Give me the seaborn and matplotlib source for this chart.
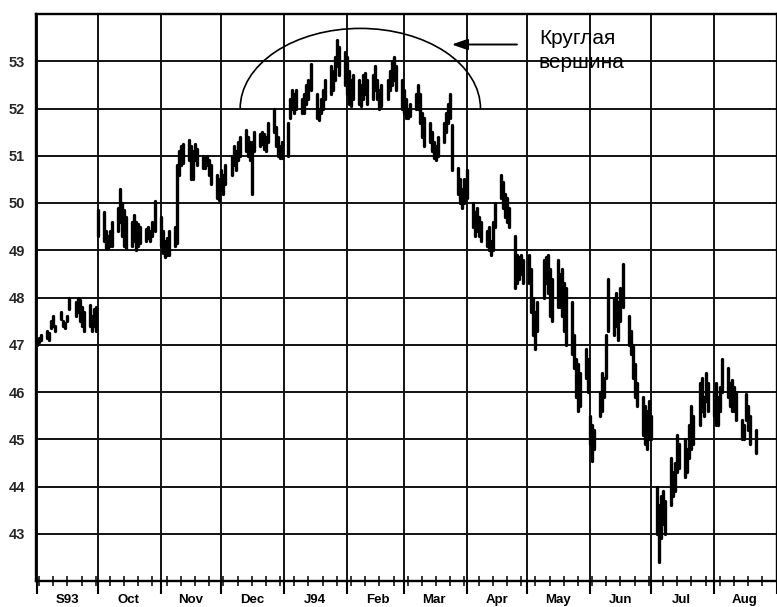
import matplotlib
matplotlib.use("Agg")
import matplotlib.pyplot as plt
import matplotlib.dates as mdates
from matplotlib.patches import Arc
import matplotlib.transforms as mtransforms
import pandas as pd
import seaborn as sns

# ---------------- data (daily high / low) ----------------
month_starts = ["1993-09-01", "1993-10-01", "1993-11-01", "1993-12-01", "1994-01-01",
                "1994-02-01", "1994-03-01", "1994-04-01", "1994-05-01", "1994-06-01",
                "1994-07-01", "1994-08-01", "1994-09-01"]
month_labels = ["S93", "Oct", "Nov", "Dec", "J94", "Feb", "Mar", "Apr", "May", "Jun", "Jul", "Aug"]
y_ticks = [43, 44, 45, 46, 47, 48, 49, 50, 51, 52, 53]

sep_hi = [47.1, 47.15, 47.2, 47.3, 47.25, 47.5, 47.6, 47.4, 47.7, 47.5, 47.45, 47.6, 48.0, 47.9, 48.0, 47.95, 47.8, 47.7, 47.85, 47.6, 47.75, 47.8]
sep_lo = [47.0, 47.05, 47.1, 47.15, 47.1, 47.35, 47.4, 47.3, 47.55, 47.4, 47.35, 47.5, 47.75, 47.6, 47.7, 47.5, 47.4, 47.3, 47.4, 47.3, 47.4, 47.3]
oct_hi = [49.85, 49.8, 49.4, 49.3, 49.4, 49.6, 49.9, 50.3, 50.0, 49.85, 49.7, 49.6, 49.75, 49.6, 49.55, 49.5, 49.45, 49.5, 49.4, 49.6, 50.05]
oct_lo = [49.3, 49.2, 49.05, 49.05, 49.1, 49.1, 49.4, 49.6, 49.3, 49.1, 49.05, 49.1, 49.2, 49.0, 49.1, 49.15, 49.2, 49.25, 49.2, 49.3, 49.4]
nov_hi = [49.7, 49.4, 49.2, 49.25, 49.4, 49.5, 50.8, 51.1, 51.2, 51.25, 51.33, 51.2, 51.1, 51.25, 51.15, 51.0, 50.95, 51.0, 50.9, 50.8, 50.6, 50.5]
nov_lo = [49.1, 48.95, 48.85, 48.9, 48.9, 49.1, 49.15, 50.6, 50.8, 50.85, 50.9, 50.5, 50.5, 50.9, 50.8, 50.75, 50.75, 50.8, 50.6, 50.4, 50.1, 50.06]
dec_hi = [50.7, 50.6, 50.8, 51.0, 51.2, 51.1, 51.3, 51.4, 51.55, 51.4, 51.3, 51.3, 51.5, 51.45, 51.5, 51.45, 51.4, 51.7, 52.0, 51.6, 51.4, 51.2, 51.3]
dec_lo = [50.3, 50.2, 50.4, 50.6, 50.8, 50.7, 50.9, 51.0, 51.1, 51.0, 50.9, 50.2, 51.1, 51.2, 51.25, 51.15, 51.1, 51.3, 51.5, 51.2, 51.0, 50.95, 50.95]
jan_hi = [51.7, 52.2, 52.4, 52.3, 52.4, 52.2, 52.3, 52.5, 52.6, 52.95, 52.3, 52.0, 52.2, 52.4, 52.6, 52.9, 52.8, 53.1, 53.45, 53.3, 53.2]
jan_lo = [51.0, 51.8, 52.0, 51.9, 52.0, 51.9, 51.9, 52.1, 52.2, 52.4, 51.8, 51.75, 51.9, 52.0, 52.2, 52.3, 52.4, 52.6, 52.9, 52.7, 52.5]
feb_hi = [53.1, 52.8, 52.6, 52.7, 52.6, 52.5, 52.7, 52.75, 52.6, 52.7, 52.9, 52.6, 52.4, 52.5, 52.6, 52.8, 53.0, 53.1, 52.9, 52.6]
feb_lo = [52.3, 52.1, 52.05, 52.2, 52.1, 52.05, 52.2, 52.3, 52.1, 52.2, 52.4, 52.2, 52.0, 52.05, 52.2, 52.4, 52.5, 52.6, 52.4, 52.0]
mar_hi = [52.4, 52.2, 52.0, 52.1, 52.3, 52.5, 52.3, 51.9, 51.8, 51.7, 51.5, 51.3, 51.2, 51.4, 51.7, 51.9, 52.1, 52.3, 51.65, 50.75, 50.5, 50.3, 50.5]
mar_lo = [51.9, 51.8, 51.8, 51.85, 52.0, 52.0, 51.7, 51.4, 51.2, 51.3, 51.1, 50.95, 50.9, 51.0, 51.3, 51.5, 51.7, 51.8, 50.7, 50.2, 50.0, 49.9, 50.0]
apr_hi = [50.7, 50.0, 49.8, 49.9, 49.7, 49.6, 49.4, 49.5, 49.2, 49.6, 50.0, 50.6, 50.45, 50.2, 50.1, 49.9, 49.3, 48.9, 48.85, 48.9, 48.8]
apr_lo = [50.1, 49.5, 49.3, 49.4, 49.3, 49.2, 49.1, 49.0, 48.9, 49.0, 49.5, 50.1, 49.9, 49.7, 49.6, 49.5, 48.2, 48.3, 48.4, 48.5, 48.3]
may_hi = [48.9, 48.6, 48.0, 47.7, 47.9, 48.8, 48.85, 48.9, 48.6, 48.4, 48.8, 48.5, 48.6, 48.3, 48.2, 47.9, 47.2, 46.7, 46.6, 46.4, 46.9, 46.7]
may_lo = [48.3, 47.7, 47.2, 46.9, 47.3, 48.0, 48.3, 48.1, 47.6, 47.5, 47.8, 47.8, 47.6, 47.3, 47.0, 46.8, 46.5, 45.9, 45.6, 45.7, 46.3, 46.0]
jun_hi = [45.5, 45.3, 45.2, 46.0, 46.4, 46.3, 47.2, 48.4, 48.0, 48.1, 47.9, 48.2, 48.7, 47.6, 47.3, 47.0, 46.6, 46.2, 45.9, 45.7, 45.6, 45.8]
jun_lo = [44.9, 44.55, 44.8, 45.5, 45.6, 45.9, 46.3, 47.3, 47.2, 47.4, 47.1, 47.5, 47.8, 47.0, 46.8, 46.3, 45.9, 45.7, 45.1, 44.9, 44.8, 45.0]
jul_hi = [45.5, 44.0, 43.6, 43.8, 43.9, 43.7, 44.6, 44.3, 44.5, 45.1, 44.9, 45.0, 44.8, 45.3, 45.7, 45.5, 46.2, 46.3, 45.9, 46.4, 46.2]
jul_lo = [45.0, 43.0, 42.4, 42.9, 43.2, 43.0, 43.6, 43.8, 43.9, 44.3, 44.4, 44.2, 44.3, 44.6, 44.8, 44.9, 45.3, 45.6, 45.5, 45.8, 45.6]
aug_hi = [46.0, 46.2, 45.9, 46.1, 46.7, 46.5, 46.2, 46.25, 46.1, 46.0, 45.4, 45.3, 45.95, 45.7, 45.5, 45.2]
aug_lo = [45.5, 45.3, 45.3, 45.6, 46.0, 45.9, 45.7, 45.6, 45.6, 45.4, 45.0, 45.0, 45.4, 45.2, 44.9, 44.7]

highs = [sep_hi, oct_hi, nov_hi, dec_hi, jan_hi, feb_hi, mar_hi, apr_hi, may_hi, jun_hi, jul_hi, aug_hi]
lows = [sep_lo, oct_lo, nov_lo, dec_lo, jan_lo, feb_lo, mar_lo, apr_lo, may_lo, jun_lo, jul_lo, aug_lo]

# --------------- build long table: one bar = two rows (high & low) ---------------
rows = []
bar_id = 0
for m, (hi, lo) in enumerate(zip(highs, lows)):
    start = pd.Timestamp(month_starts[m])
    days = pd.bdate_range(start, start + pd.offsets.MonthEnd(0))[:len(hi)]
    for d, h, l in zip(days, hi, lo):
        rows.append({"date": d, "price": h, "bar": bar_id})
        rows.append({"date": d, "price": l, "bar": bar_id})
        bar_id += 1
df = pd.DataFrame(rows)

# ---------------------------------- figure ----------------------------------
sns.set_theme(style="white")
plt.rcParams["font.family"] = ["Liberation Sans", "DejaVu Sans"]

W, H = 777, 607
fig = plt.figure(figsize=(W / 100, H / 100), dpi=100)
ax = fig.add_axes([36 / W, 26 / H, 740.5 / W, 567 / H])

sns.lineplot(data=df, x="date", y="price", units="bar", estimator=None,
             color="black", linewidth=2.4, ax=ax, legend=False)

x0 = pd.Timestamp("1993-08-31 12:00")
x1 = pd.Timestamp("1994-09-01")
ax.set_xlim(x0, x1)
ax.set_ylim(42, 54)

# grid
ms = [pd.Timestamp(s) for s in month_starts]
for d in ms[:-1]:
    ax.axvline(d, color="#111111", lw=1.4, zorder=1)
for v in y_ticks:
    ax.axhline(v, color="#111111", lw=1.4, zorder=1)

# y axis
ax.set_yticks(y_ticks)
ax.set_yticklabels([str(v) for v in y_ticks], fontweight="bold", fontsize=10.5)
ax.tick_params(axis="y", length=0, pad=8)

# x axis ticks
ax.xaxis.set_major_locator(mdates.MonthLocator())
ax.xaxis.set_minor_locator(mdates.WeekdayLocator(byweekday=mdates.TH))
ax.xaxis.set_major_formatter(plt.NullFormatter())
ax.tick_params(axis="x", which="major", direction="out", length=9, width=1.5, color="black", bottom=True)
ax.tick_params(axis="x", which="minor", direction="inout", length=7, width=1.1, color="black", bottom=True)
ax.set_xlabel("")
ax.set_ylabel("")

trans = mtransforms.blended_transform_factory(ax.transData, ax.transAxes)
for s, lab in zip(ms[:-1], month_labels):
    ax.text(s + pd.Timedelta(days=15), -0.034, lab, transform=trans, ha="center", va="center",
            fontsize=9.5, fontweight="bold", color="black")

for sp in ax.spines.values():
    sp.set_color("black")
    sp.set_linewidth(1.7)

# rounding-top arc
center = pd.Timestamp("1994-02-07 14:00")
arc = Arc((mdates.date2num(center), 52.0), width=118.6, height=3.39, theta1=0, theta2=180,
          color="black", lw=1.2, zorder=3)
ax.add_patch(arc)

# annotation
ax.annotate("", xy=(0.5615, 0.9462), xytext=(0.6495, 0.9462), xycoords="axes fraction",
            arrowprops=dict(arrowstyle="-|>,head_length=0.8,head_width=0.28", lw=1.4,
                            color="black", shrinkA=0, shrinkB=0))
ax.text(0.679, 0.9735, "Круглая\nвершина", transform=ax.transAxes, ha="left", va="top",
        fontsize=15, linespacing=1.3, color="black")

fig.savefig("out.png", dpi=100, facecolor="white")
